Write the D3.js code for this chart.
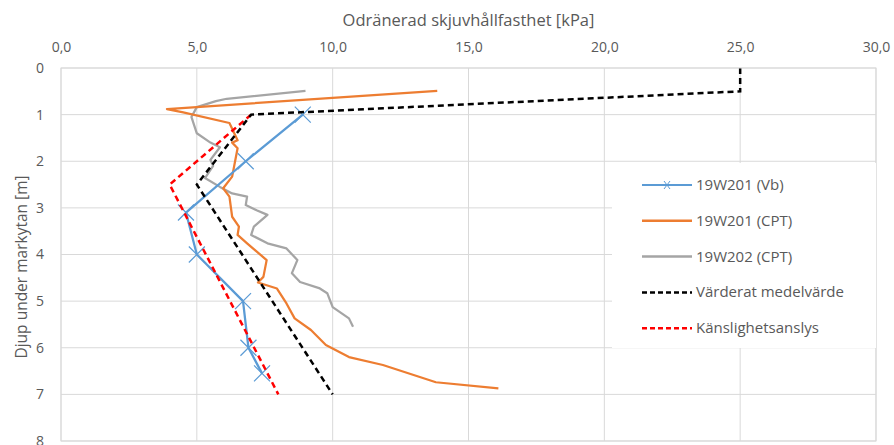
<!DOCTYPE html>
<html>
<head>
<meta charset="utf-8">
<script src="https://cdn.jsdelivr.net/npm/d3@7"></script>
<style>
  body { margin: 0; background: #fff; }
  text { font-family: "Open Sans", sans-serif; fill: #595959; }
</style>
</head>
<body>
<div id="chart"></div>
<script>
// x = skjuvhållfasthet [kPa], d = djup [m]
var vbPoints = [[8.9, 1.0], [6.8, 2.0], [4.6, 3.1], [5.0, 4.0], [6.7, 5.0], [6.9, 6.0], [7.4, 6.55]];
var cpt201 = [[13.85, 0.49], [3.9, 0.88], [4.5, 0.95], [6.2, 1.18], [6.5, 1.55], [6.3, 1.6], [6.5, 1.72],
    [6.3, 2.33], [5.97, 2.58], [6.2, 2.76], [6.3, 3.19], [6.55, 3.4], [6.5, 3.58], [6.85, 3.76],
    [7.57, 4.12], [7.45, 4.48], [7.25, 4.6], [7.95, 4.73], [8.3, 5.05], [8.6, 5.37], [9.2, 5.62],
    [9.75, 5.94], [10.6, 6.2], [11.85, 6.37], [13.8, 6.74], [16.1, 6.87]];
var cpt202 = [[9.0, 0.49], [6.1, 0.66], [5.7, 0.71], [5.0, 0.84], [4.8, 1.05], [5.0, 1.4], [5.5, 1.6],
    [5.85, 1.7], [5.5, 1.97], [5.6, 2.1], [5.3, 2.36], [5.85, 2.55], [6.3, 2.69], [6.85, 2.76],
    [6.8, 2.94], [7.2, 3.05], [7.6, 3.15], [7.1, 3.4], [7.0, 3.58], [7.6, 3.76], [8.3, 3.87],
    [8.7, 4.12], [8.5, 4.4], [8.8, 4.59], [9.5, 4.72], [9.8, 4.83], [10.0, 5.13], [10.6, 5.37],
    [10.75, 5.55]];
var medel = [[25, 0], [25, 0.5], [7.0, 1.0], [5.0, 2.5], [10.0, 7.0]];
var kanslighet = [[7.0, 1.0], [4.0, 2.5], [8.0, 7.0]];

var xTicks = [0, 5, 10, 15, 20, 25, 30];
var yTicks = [0, 1, 2, 3, 4, 5, 6, 7, 8];
var seriesNames = ["19W201 (Vb)", "19W201 (CPT)", "19W202 (CPT)", "Värderat medelvärde", "Känslighetsanslys"];

var width = 894, height = 445;

var svg = d3.select("#chart").append("svg")
    .attr("width", width)
    .attr("height", height);

var x = d3.scaleLinear().domain([0, 30]).range([61, 876]);
var y = d3.scaleLinear().domain([0, 8]).range([68, 441]);

// gridlines
svg.append("g").selectAll("line.v")
    .data(xTicks)
    .enter().append("line")
    .attr("x1", d => x(d)).attr("x2", d => x(d))
    .attr("y1", y(0)).attr("y2", y(8))
    .style("stroke", "#d9d9d9").style("stroke-width", 1);

svg.append("g").selectAll("line.h")
    .data(yTicks)
    .enter().append("line")
    .attr("x1", x(0)).attr("x2", x(30))
    .attr("y1", d => y(d)).attr("y2", d => y(d))
    .style("stroke", "#d9d9d9").style("stroke-width", 1);

// axes (labels only, no ticks)
var xAxis = svg.append("g")
    .attr("transform", "translate(0," + 55 + ")")
    .call(d3.axisTop(x).tickValues(xTicks).tickSize(0)
        .tickFormat(d => d3.format(".1f")(d).replace(".", ",")));
xAxis.select(".domain").remove();
xAxis.selectAll("text").style("font-size", "14px");

var yAxis = svg.append("g")
    .attr("transform", "translate(" + 47 + ",0)")
    .call(d3.axisLeft(y).tickValues(yTicks).tickSize(0));
yAxis.select(".domain").remove();
yAxis.selectAll("text").style("font-size", "14px");

svg.append("text")
    .text("Odränerad skjuvhållfasthet [kPa]")
    .attr("x", (x(0) + x(30)) / 2)
    .attr("y", 26)
    .attr("text-anchor", "middle")
    .style("font-size", "16.5px");

svg.append("text")
    .text("Djup under markytan [m]")
    .attr("transform", "translate(27," + 267 + ") rotate(-90)")
    .attr("text-anchor", "middle")
    .style("font-size", "15.5px");

var line = d3.line().x(d => x(d[0])).y(d => y(d[1]));

svg.append("path").datum(cpt202)
    .attr("d", line)
    .style("fill", "none").style("stroke", "#a5a5a5").style("stroke-width", 2.25)
    .style("stroke-linejoin", "round");

svg.append("path").datum(cpt201)
    .attr("d", line)
    .style("fill", "none").style("stroke", "#ed7d31").style("stroke-width", 2.25)
    .style("stroke-linejoin", "round");

svg.append("path").datum(vbPoints)
    .attr("d", line)
    .style("fill", "none").style("stroke", "#5b9bd5").style("stroke-width", 2.25)
    .style("stroke-linejoin", "round");

// x markers
var m = 8;
svg.append("g").selectAll("path.marker")
    .data(vbPoints)
    .enter().append("path")
    .attr("d", d => "M" + (x(d[0]) - m) + "," + (y(d[1]) - m) + "L" + (x(d[0]) + m) + "," + (y(d[1]) + m)
        + "M" + (x(d[0]) - m) + "," + (y(d[1]) + m) + "L" + (x(d[0]) + m) + "," + (y(d[1]) - m))
    .style("stroke", "#5b9bd5").style("stroke-width", 1.2);

svg.append("path").datum(kanslighet)
    .attr("d", line)
    .style("fill", "none").style("stroke", "#ff0000").style("stroke-width", 2.5)
    .style("stroke-dasharray", "6,4");

svg.append("path").datum(medel)
    .attr("d", line)
    .style("fill", "none").style("stroke", "#000").style("stroke-width", 2.5)
    .style("stroke-dasharray", "6,4");

// plot border
svg.append("rect")
    .attr("x", x(0)).attr("y", y(0))
    .attr("width", x(30) - x(0)).attr("height", y(8) - y(0))
    .style("fill", "none").style("stroke", "#d9d9d9");

// legend
var legend = svg.append("g");
legend.append("rect")
    .attr("x", 612).attr("y", 163)
    .attr("width", 876 - 612).attr("height", 185)
    .style("fill", "#fff");

var legendStyles = [
    { color: "#5b9bd5", dash: null, w: 2 },
    { color: "#ed7d31", dash: null, w: 2.5 },
    { color: "#a5a5a5", dash: null, w: 2.5 },
    { color: "#000", dash: "5,3", w: 2.5 },
    { color: "#ff0000", dash: "5,3", w: 2.5 }
];

var items = legend.selectAll("g.item")
    .data(seriesNames)
    .enter().append("g")
    .attr("class", "item")
    .attr("transform", (d, i) => "translate(0," + (185 + i * 35.8) + ")");

items.append("line")
    .attr("x1", 642).attr("x2", 692)
    .attr("y1", 0).attr("y2", 0)
    .style("stroke", (d, i) => legendStyles[i].color)
    .style("stroke-width", (d, i) => legendStyles[i].w)
    .style("stroke-dasharray", (d, i) => legendStyles[i].dash);

items.filter((d, i) => i === 0).append("path")
    .attr("d", "M664,-4L670,4M664,4L670,-4")
    .style("stroke", "#5b9bd5").style("stroke-width", 1);

items.append("text")
    .text(d => d)
    .attr("x", 696)
    .attr("y", 5)
    .style("font-size", "15px");
</script>
</body>
</html>
